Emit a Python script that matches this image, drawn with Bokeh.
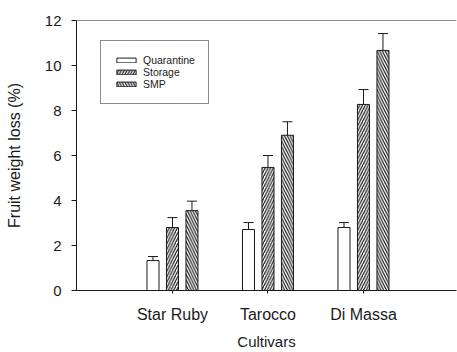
from bokeh.plotting import figure
from bokeh.models import (ColumnDataSource, Whisker, TeeHead, Legend, LegendItem,
                          FixedTicker, Span, Range1d)
from bokeh.transform import dodge
from bokeh.embed import file_html
from bokeh.resources import INLINE

# ---- data ----
cultivars = ["Star Ruby", "Tarocco", "Di Massa"]
positions = [1, 2, 3]
quarantine = [1.33, 2.71, 2.80]
quarantine_err = [0.18, 0.31, 0.22]
storage = [2.80, 5.47, 8.27]
storage_err = [0.44, 0.53, 0.66]
smp = [3.55, 6.90, 10.67]
smp_err = [0.42, 0.60, 0.75]
y_ticks = [0, 2, 4, 6, 8, 10, 12]

FONT = "Liberation Sans"
INK = "#1a1a1a"

src = ColumnDataSource(dict(
    x=positions,
    q=quarantine, q_up=[v + e for v, e in zip(quarantine, quarantine_err)],
    st=storage, st_up=[v + e for v, e in zip(storage, storage_err)],
    sm=smp, sm_up=[v + e for v, e in zip(smp, smp_err)],
))

p = figure(width=457, height=352, output_backend="svg", toolbar_location=None,
           x_range=Range1d(-0.005, 3.974), y_range=Range1d(0, 12),
           min_border_left=76, min_border_right=1, min_border_top=20,
           min_border_bottom=62)
p.outline_line_color = None
p.xgrid.visible = False
p.ygrid.visible = False
p.background_fill_color = "white"
p.border_fill_color = "white"

off = 0.204
bw = 0.126
r_q = p.vbar(x=dodge("x", -off), top="q", bottom=0, width=bw, source=src,
             fill_color="white", line_color=INK, line_width=1)
r_st = p.vbar(x=dodge("x", 0), top="st", bottom=0, width=bw, source=src,
              fill_color="white", line_color=INK, line_width=1,
              hatch_pattern="right_diagonal_line", hatch_color=INK,
              hatch_scale=5.5, hatch_weight=1.2)
r_sm = p.vbar(x=dodge("x", off), top="sm", bottom=0, width=bw, source=src,
              fill_color="white", line_color=INK, line_width=1,
              hatch_pattern="left_diagonal_line", hatch_color=INK,
              hatch_scale=5.5, hatch_weight=1.2)

for key, d in (("q", -off), ("st", 0), ("sm", off)):
    w = Whisker(base=dodge("x", d), lower=key, upper=key + "_up", source=src,
                dimension="height", line_color=INK, line_width=1,
                lower_head=None,
                upper_head=TeeHead(size=10, line_color=INK, line_width=1))
    p.add_layout(w)

p.add_layout(Span(location=12, dimension="width", line_color=INK, line_width=1))

# axes
p.xaxis.ticker = FixedTicker(ticks=positions)
p.xaxis.major_label_overrides = {pos: name for pos, name in zip(positions, cultivars)}
p.xaxis.axis_label = "Cultivars"
p.yaxis.ticker = FixedTicker(ticks=y_ticks)
p.yaxis.axis_label = "Fruit weight loss (%)"
for ax in (p.xaxis, p.yaxis):
    ax.axis_line_color = INK
    ax.axis_line_width = 1
    ax.major_tick_line_color = INK
    ax.minor_tick_line_color = None
    ax.major_tick_in = 0
    ax.major_label_text_font = FONT
    ax.major_label_text_color = INK
    ax.axis_label_text_font = FONT
    ax.axis_label_text_font_style = "normal"
    ax.axis_label_text_color = INK
p.xaxis.major_tick_out = 3
p.xaxis.major_label_text_font_size = "16px"
p.xaxis.major_label_standoff = 12
p.xaxis.axis_label_text_font_size = "15px"
p.xaxis.axis_label_standoff = 7
p.yaxis.major_tick_out = 5
p.yaxis.major_label_text_font_size = "15px"
p.yaxis.major_label_standoff = 10
p.yaxis.axis_label_text_font_size = "16px"
p.yaxis.axis_label_standoff = 19

legend = Legend(items=[LegendItem(label="Quarantine", renderers=[r_q]),
                       LegendItem(label="Storage", renderers=[r_st]),
                       LegendItem(label="SMP", renderers=[r_sm])],
                location=(24, 186), orientation="vertical",
                border_line_color=INK, border_line_width=1,
                background_fill_color="white", background_fill_alpha=1,
                label_text_font=FONT, label_text_font_size="10.5px",
                label_text_color=INK,
                glyph_width=24, glyph_height=6, label_height=10,
                label_standoff=5, spacing=-1, padding=13, margin=0)
p.add_layout(legend, "center")

open("out.html", "w").write(file_html(p, INLINE))
